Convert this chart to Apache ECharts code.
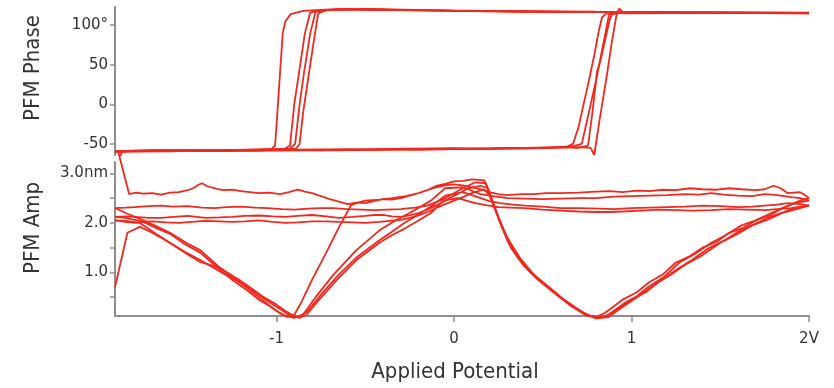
<!DOCTYPE html>
<html>
<head>
<meta charset="utf-8">
<script src="https://cdn.jsdelivr.net/npm/echarts@6/dist/echarts.min.js"></script>
<style>
html,body{margin:0;padding:0;background:#fff;}
#chart{width:834px;height:388px;}
</style>
</head>
<body>
<div id="chart"></div>
<script>
// ---- tick values / labels ----
const xTickValues = [-1, 0, 1, 2];
const xTickLabels = ['-1', '0', '1', '2V'];
const phaseTickValues = [-50, 0, 50, 100];
const phaseTickLabels = ['-50', '0', '50', '100°'];
const ampTickValues = [1, 2, 3];
const ampTickLabels = ['1.0', '2.0', '3.0nm'];
const ampMinorTicks = [0.5, 1, 1.5, 2, 2.5, 3];

// ---- PFM phase hysteresis cycles: [applied potential V, phase deg] ----
const phaseCycle1 = [[-1.89,-70],[-1.87,-60],[-1.8,-59],[-1.7,-58.5],[-1.6,-59.5],[-1.5,-58.5],[-1.4,-59],[-1.3,-59],[-1.2,-58],[-1.1,-58.5],[-1.0,-57.5],[-0.9,-57.5],[-0.75,-58],[-0.6,-57],[-0.45,-57.5],[-0.3,-57],[-0.15,-56.5],[0,-56],[0.15,-56.5],[0.3,-55.5],[0.45,-55.5],[0.55,-55],[0.64,-53],[0.67,-50],[0.7,-30],[0.73,0],[0.76,30],[0.79,62],[0.815,92],[0.834,110],[0.86,115],[1.1,116],[1.5,115.5],[2.0,115.5],
  [1.6,116],[1.2,116],[0.8,116.5],[0.4,117],[0,118],[-0.4,119.5],[-0.7,120],[-0.85,118],[-0.92,114],[-0.95,105],[-0.965,90],[-0.98,40],[-0.995,-10],[-1.008,-52],[-1.03,-57],[-1.15,-58],[-1.3,-59],[-1.45,-58.5],[-1.6,-59.5],[-1.75,-59],[-1.91,-60]];
const phaseCycle2 = [[-1.91,-60],[-1.75,-59.5],[-1.6,-59],[-1.4,-58],[-1.2,-58.5],[-1.0,-58.5],[-0.8,-58],[-0.6,-57.5],[-0.4,-57],[-0.2,-57.5],[0,-56.5],[0.2,-56],[0.4,-55.5],[0.65,-54],[0.72,-50],[0.76,-10],[0.8,30],[0.84,75],[0.873,113],[0.9,116],[1.3,116.5],[1.7,115.5],[2.0,115],
  [1.5,115.5],[1.0,116.5],[0.5,117],[0,118.5],[-0.5,120.5],[-0.75,119],[-0.81,116],[-0.84,90],[-0.87,45],[-0.9,0],[-0.924,-52],[-0.96,-57],[-1.1,-57.5],[-1.4,-58.5],[-1.65,-58],[-1.91,-59]];
const phaseCycle3 = [[-1.91,-59],[-1.7,-58.5],[-1.5,-58],[-1.25,-58.5],[-1.0,-57.5],[-0.75,-57],[-0.5,-57],[-0.25,-56],[0,-55.5],[0.2,-56],[0.4,-55],[0.62,-54],[0.7,-55],[0.755,-52],[0.78,-10],[0.8,30],[0.806,42],[0.812,45],[0.825,55],[0.85,80],[0.875,105],[0.89,114],[0.95,116],[1.4,116],[2.0,116],
  [1.4,116.5],[0.8,117],[0.2,118],[-0.3,119],[-0.65,120.5],[-0.78,117],[-0.81,90],[-0.845,40],[-0.87,0],[-0.895,-50],[-0.93,-57],[-1.2,-57.5],[-1.5,-58],[-1.91,-59]];
const phaseCycle4 = [[-1.91,-59],[-1.65,-58],[-1.4,-58.5],[-1.15,-58],[-0.9,-57.5],[-0.65,-58],[-0.4,-57],[-0.15,-56.5],[0.1,-56],[0.3,-55.5],[0.5,-55],[0.7,-54],[0.77,-55],[0.79,-64],[0.82,-20],[0.86,35],[0.89,80],[0.915,112],[0.93,121],[0.945,118],[0.96,115],[1.5,115.5],[2.0,115],
  [1.3,116],[0.6,117],[0,118],[-0.5,120],[-0.72,119],[-0.765,115],[-0.79,80],[-0.82,35],[-0.85,-10],[-0.87,-50],[-0.89,-56],[-1.1,-57],[-1.3,-58],[-1.6,-58.5],[-1.91,-59]];

// ---- PFM amplitude butterfly cycles: [applied potential V, amplitude nm] ----
const ampCycle1 = [[-1.89,3.41],[-1.83,2.58],[-1.79,2.61],[-1.75,2.59],[-1.7,2.6],[-1.65,2.57],[-1.6,2.61],[-1.55,2.62],[-1.5,2.66],[-1.47,2.7],[-1.44,2.77],[-1.42,2.8],[-1.39,2.74],[-1.37,2.72],[-1.33,2.68],[-1.3,2.66],[-1.25,2.67],[-1.2,2.64],[-1.15,2.62],[-1.1,2.6],[-1.04,2.61],[-0.98,2.58],[-0.93,2.62],[-0.88,2.67],[-0.84,2.63],[-0.8,2.6],[-0.75,2.54],[-0.7,2.48],[-0.65,2.43],[-0.6,2.38],[-0.55,2.41],[-0.5,2.4],[-0.45,2.44],[-0.4,2.48],[-0.35,2.47],[-0.3,2.5],[-0.25,2.55],[-0.2,2.6],[-0.15,2.66],[-0.1,2.75],[-0.05,2.79],[0.0,2.84],[0.05,2.85],[0.1,2.88],[0.14,2.87],[0.17,2.86],[0.2,2.6],[0.25,2.1],[0.3,1.65],[0.36,1.3],[0.43,1.0],[0.5,0.8],[0.58,0.55],[0.66,0.32],[0.74,0.14],[0.8,0.1],[0.85,0.18],[0.95,0.45],[1.03,0.6],[1.1,0.8],[1.18,0.97],[1.25,1.2],[1.33,1.33],[1.4,1.5],[1.48,1.62],[1.55,1.8],[1.63,1.9],[1.7,2.05],[1.78,2.15],[1.85,2.3],[1.95,2.45],[2.0,2.5],
  [1.97,2.58],[1.95,2.62],[1.88,2.6],[1.84,2.7],[1.8,2.75],[1.75,2.68],[1.7,2.66],[1.62,2.68],[1.55,2.7],[1.48,2.67],[1.4,2.68],[1.33,2.7],[1.25,2.66],[1.18,2.67],[1.1,2.64],[1.03,2.65],[0.95,2.62],[0.88,2.64],[0.8,2.63],[0.7,2.61],[0.6,2.6],[0.52,2.6],[0.45,2.58],[0.38,2.58],[0.3,2.56],[0.25,2.58],[0.2,2.62],[0.15,2.68],[0.1,2.72],[0.05,2.76],[0.0,2.78],[-0.05,2.76],[-0.1,2.72],[-0.15,2.66],[-0.2,2.6],[-0.27,2.54],[-0.35,2.5],[-0.42,2.47],[-0.5,2.45],[-0.55,2.4],[-0.58,2.36],[-0.65,1.9],[-0.72,1.4],[-0.8,0.85],[-0.86,0.4],[-0.9,0.14],[-0.94,0.1],[-1.0,0.22],[-1.05,0.36],[-1.1,0.5],[-1.17,0.7],[-1.25,0.9],[-1.33,1.13],[-1.43,1.45],[-1.5,1.58],[-1.6,1.8],[-1.67,1.92],[-1.75,2.05],[-1.85,2.2],[-1.91,2.3]];
const ampCycle2 = [[-1.91,2.3],[-1.85,2.31],[-1.8,2.32],[-1.72,2.34],[-1.65,2.35],[-1.58,2.33],[-1.5,2.34],[-1.42,2.31],[-1.35,2.3],[-1.28,2.32],[-1.2,2.33],[-1.12,2.31],[-1.05,2.3],[-0.97,2.28],[-0.9,2.27],[-0.82,2.29],[-0.75,2.3],[-0.68,2.3],[-0.6,2.28],[-0.52,2.27],[-0.45,2.26],[-0.38,2.27],[-0.3,2.28],[-0.22,2.31],[-0.15,2.35],[-0.1,2.42],[-0.05,2.5],[0.0,2.6],[0.05,2.7],[0.12,2.82],[0.18,2.8],[0.21,2.5],[0.26,2.0],[0.32,1.5],[0.39,1.15],[0.47,0.86],[0.56,0.6],[0.65,0.35],[0.73,0.18],[0.8,0.08],[0.86,0.12],[0.96,0.38],[1.03,0.52],[1.1,0.72],[1.18,0.9],[1.27,1.2],[1.36,1.38],[1.45,1.6],[1.53,1.75],[1.62,1.95],[1.7,2.05],[1.8,2.22],[1.92,2.4],[2.0,2.45],
  [1.95,2.5],[1.9,2.52],[1.82,2.56],[1.75,2.58],[1.68,2.54],[1.6,2.55],[1.52,2.57],[1.45,2.6],[1.38,2.57],[1.3,2.58],[1.2,2.56],[1.1,2.55],[1.0,2.54],[0.9,2.53],[0.8,2.5],[0.7,2.5],[0.6,2.49],[0.5,2.48],[0.4,2.49],[0.3,2.5],[0.22,2.54],[0.15,2.58],[0.1,2.65],[0.05,2.72],[-0.05,2.7],[-0.13,2.45],[-0.25,2.2],[-0.33,2.05],[-0.42,1.85],[-0.55,1.45],[-0.68,0.95],[-0.78,0.5],[-0.85,0.15],[-0.9,0.08],[-0.97,0.15],[-1.03,0.3],[-1.1,0.45],[-1.17,0.65],[-1.25,0.85],[-1.34,1.12],[-1.43,1.4],[-1.52,1.58],[-1.6,1.78],[-1.68,1.9],[-1.75,2.02],[-1.85,2.1],[-1.91,2.12]];
const ampCycle3 = [[-1.91,2.12],[-1.85,2.13],[-1.8,2.12],[-1.72,2.1],[-1.65,2.1],[-1.58,2.12],[-1.5,2.14],[-1.45,2.12],[-1.4,2.1],[-1.32,2.11],[-1.25,2.12],[-1.18,2.14],[-1.1,2.15],[-1.02,2.13],[-0.95,2.12],[-0.88,2.14],[-0.8,2.16],[-0.72,2.13],[-0.65,2.1],[-0.57,2.12],[-0.5,2.14],[-0.45,2.16],[-0.4,2.16],[-0.35,2.13],[-0.3,2.12],[-0.25,2.15],[-0.2,2.2],[-0.15,2.27],[-0.1,2.35],[-0.05,2.45],[0.0,2.55],[0.04,2.62],[0.08,2.7],[0.15,2.75],[0.19,2.7],[0.22,2.4],[0.28,1.85],[0.34,1.42],[0.41,1.1],[0.48,0.85],[0.58,0.55],[0.68,0.3],[0.76,0.12],[0.83,0.08],[0.9,0.2],[1.0,0.45],[1.08,0.6],[1.15,0.8],[1.22,0.95],[1.3,1.15],[1.4,1.35],[1.5,1.6],[1.59,1.76],[1.68,1.95],[1.77,2.07],[1.85,2.2],[1.93,2.28],[2.0,2.35],
  [1.95,2.38],[1.88,2.4],[1.82,2.37],[1.75,2.35],[1.68,2.33],[1.6,2.32],[1.5,2.34],[1.4,2.35],[1.3,2.33],[1.2,2.32],[1.1,2.31],[1.0,2.3],[0.9,2.28],[0.82,2.29],[0.7,2.3],[0.6,2.3],[0.5,2.33],[0.4,2.35],[0.33,2.37],[0.26,2.4],[0.2,2.44],[0.15,2.5],[0.1,2.56],[0.05,2.62],[-0.05,2.55],[-0.13,2.33],[-0.2,2.17],[-0.28,2.0],[-0.35,1.82],[-0.42,1.65],[-0.55,1.3],[-0.65,0.95],[-0.75,0.55],[-0.83,0.2],[-0.88,0.1],[-0.92,0.12],[-0.98,0.26],[-1.05,0.42],[-1.12,0.6],[-1.2,0.8],[-1.3,0.98],[-1.43,1.25],[-1.52,1.42],[-1.6,1.6],[-1.68,1.78],[-1.77,2.0],[-1.85,2.04],[-1.91,2.05]];
const ampCycle4 = [[-1.91,2.05],[-1.85,2.02],[-1.8,2.0],[-1.75,2.02],[-1.7,2.03],[-1.62,2.01],[-1.55,2.0],[-1.48,2.02],[-1.4,2.04],[-1.32,2.03],[-1.25,2.02],[-1.18,2.03],[-1.1,2.05],[-1.02,2.02],[-0.95,2.0],[-0.88,2.01],[-0.8,2.03],[-0.72,2.03],[-0.65,2.02],[-0.57,2.01],[-0.5,2.0],[-0.42,2.02],[-0.36,2.04],[-0.3,2.06],[-0.25,2.1],[-0.2,2.15],[-0.15,2.22],[-0.1,2.3],[-0.05,2.38],[0.0,2.45],[0.05,2.52],[0.1,2.6],[0.17,2.68],[0.2,2.55],[0.24,2.2],[0.3,1.7],[0.37,1.3],[0.45,0.95],[0.53,0.72],[0.62,0.45],[0.72,0.2],[0.8,0.07],[0.87,0.1],[0.95,0.3],[1.01,0.45],[1.08,0.62],[1.16,0.82],[1.25,1.05],[1.34,1.25],[1.43,1.48],[1.52,1.64],[1.6,1.82],[1.69,1.97],[1.78,2.12],[1.85,2.21],[1.92,2.3],[2.0,2.35],
  [1.95,2.33],[1.9,2.3],[1.82,2.28],[1.75,2.26],[1.65,2.27],[1.55,2.28],[1.45,2.26],[1.35,2.25],[1.25,2.26],[1.15,2.27],[1.05,2.25],[0.95,2.23],[0.88,2.22],[0.8,2.22],[0.7,2.23],[0.6,2.25],[0.5,2.27],[0.4,2.3],[0.32,2.31],[0.25,2.32],[0.18,2.36],[0.12,2.4],[0.07,2.45],[0.02,2.5],[-0.06,2.45],[-0.13,2.2],[-0.2,2.05],[-0.28,1.88],[-0.35,1.75],[-0.42,1.6],[-0.55,1.25],[-0.66,0.85],[-0.76,0.45],[-0.83,0.15],[-0.87,0.08],[-0.9,0.12],[-0.95,0.22],[-1.0,0.35],[-1.08,0.52],[-1.15,0.7],[-1.22,0.87],[-1.3,1.05],[-1.37,1.15],[-1.43,1.21],[-1.5,1.36],[-1.58,1.55],[-1.64,1.68],[-1.7,1.8],[-1.77,1.92],[-1.84,1.8],[-1.91,0.7]];

const phaseCycles = [phaseCycle1, phaseCycle2, phaseCycle3, phaseCycle4];
const ampCycles = [ampCycle1, ampCycle2, ampCycle3, ampCycle4];

// ---- styling ----
const RED = '#f0281e';
const AXIS_GREY = '#8e8e8e';
const TEXT = '#333333';
const TICK_FONT = 'DejaVu Sans';
const TITLE_FONT = '"DejaVu Sans Condensed", "DejaVu Sans", sans-serif';

function pick(values, labels) {
  return function (v) {
    for (let i = 0; i < values.length; i++) {
      if (Math.abs(values[i] - v) < 1e-9) return labels[i];
    }
    return '';
  };
}

const axisLineStyle = { show: true, onZero: false, lineStyle: { color: AXIS_GREY, width: 2 } };
const tickStyle = { color: AXIS_GREY, width: 1.5 };

const series = [];
phaseCycles.forEach(function (d) {
  series.push({
    type: 'line', xAxisIndex: 0, yAxisIndex: 0, data: d,
    showSymbol: false, symbol: 'none', smooth: false,
    lineStyle: { color: RED, width: 1.8 }, silent: true
  });
});
ampCycles.forEach(function (d) {
  series.push({
    type: 'line', xAxisIndex: 1, yAxisIndex: 1, data: d, clip: false,
    showSymbol: false, symbol: 'none', smooth: false,
    lineStyle: { color: RED, width: 1.8 }, silent: true
  });
});

const option = {
  animation: false,
  backgroundColor: '#ffffff',
  grid: [
    { left: 115, right: 25, top: 7, height: 148 },
    { left: 115, right: 25, top: 162, height: 154 }
  ],
  xAxis: [
    { type: 'value', gridIndex: 0, min: -1.91, max: 2, show: false },
    {
      type: 'value', gridIndex: 1, min: -1.91, max: 2,
      axisLine: axisLineStyle,
      axisTick: { show: true, length: 6, inside: false, lineStyle: tickStyle, customValues: xTickValues },
      axisLabel: { customValues: xTickValues, formatter: pick(xTickValues, xTickLabels), margin: 16,
        color: TEXT, fontFamily: TICK_FONT, fontSize: 15 },
      splitLine: { show: false }
    }
  ],
  yAxis: [
    {
      type: 'value', gridIndex: 0, min: -64, max: 123,
      axisLine: axisLineStyle,
      axisTick: { show: true, length: 5, lineStyle: tickStyle, customValues: phaseTickValues },
      axisLabel: { customValues: phaseTickValues, formatter: pick(phaseTickValues, phaseTickLabels), margin: 7,
        color: TEXT, fontFamily: TICK_FONT, fontSize: 15 },
      splitLine: { show: false }
    },
    {
      type: 'value', gridIndex: 1, min: 0.12, max: 3.23,
      axisLine: axisLineStyle,
      axisTick: { show: true, length: 5, lineStyle: tickStyle, customValues: ampMinorTicks },
      axisLabel: { customValues: ampTickValues, formatter: pick(ampTickValues, ampTickLabels), margin: 7,
        color: TEXT, fontFamily: TICK_FONT, fontSize: 15 },
      splitLine: { show: false }
    }
  ],
  graphic: [
    { type: 'text', x: 33, y: 68, rotation: Math.PI / 2,
      style: { text: 'PFM Phase', fill: TEXT, font: '22px ' + TITLE_FONT, align: 'center', verticalAlign: 'middle' } },
    { type: 'text', x: 33, y: 228, rotation: Math.PI / 2,
      style: { text: 'PFM Amp', fill: TEXT, font: '22px ' + TITLE_FONT, align: 'center', verticalAlign: 'middle' } },
    { type: 'text', x: 455, y: 372,
      style: { text: 'Applied Potential', fill: TEXT, font: '22px ' + TITLE_FONT, align: 'center', verticalAlign: 'middle' } }
  ],
  series: series
};

const chart = echarts.init(document.getElementById('chart'), null, { renderer: 'canvas' });
chart.setOption(option);
</script>
</body>
</html>
